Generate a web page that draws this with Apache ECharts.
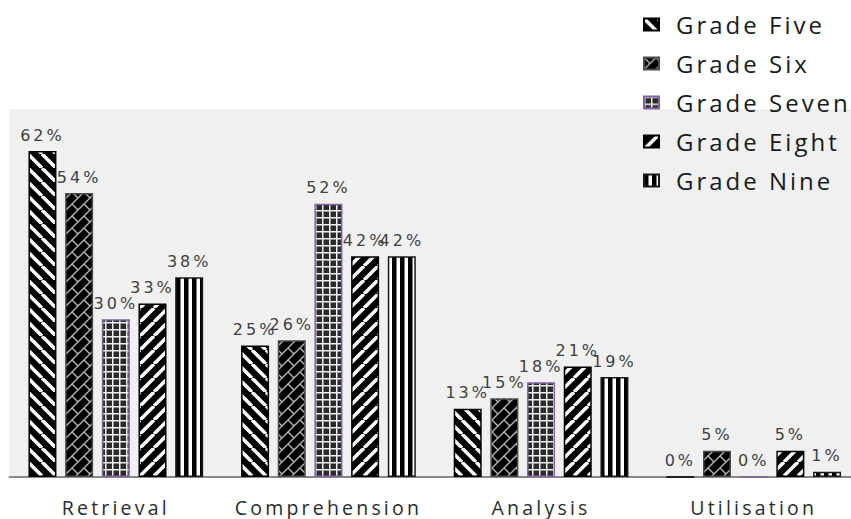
<!DOCTYPE html>
<html><head><meta charset="utf-8">
<script src="https://cdn.jsdelivr.net/npm/echarts@6/dist/echarts.min.js"></script>
<style>
html,body{margin:0;padding:0;background:#fff;overflow:hidden;}
#chart{width:851px;height:519px;}
#chart text[style*="16px"]{letter-spacing:3px;}
#chart text[style*="19.5px"]{letter-spacing:3.2px;}
#chart text[style*="24px"]{letter-spacing:3px;}
</style></head><body><div id="chart"></div>
<script>
// ---- data ----
const categories = ['Retrieval', 'Comprehension', 'Analysis', 'Utilisation'];
const seriesNames = ['Grade Five', 'Grade Six', 'Grade Seven', 'Grade Eight', 'Grade Nine'];
const gradeFive  = [62, 25, 13, 0];
const gradeSix   = [54, 26, 15, 5];
const gradeSeven = [30, 52, 18, 0];
const gradeEight = [33, 42, 21, 5];
const gradeNine  = [38, 42, 19, 1];
const valueMax = 70;

// ---- patterns ----
function tile(w, h, draw) {
  const c = document.createElement('canvas');
  c.width = w; c.height = h;
  draw(c.getContext('2d'), w, h);
  return c;
}
function seg(g, x1, y1, x2, y2) { g.beginPath(); g.moveTo(x1, y1); g.lineTo(x2, y2); g.stroke(); }
const patFive = tile(14, 14, (g, s) => {
  g.fillStyle = '#000'; g.fillRect(0, 0, s, s);
  g.strokeStyle = '#fff'; g.lineWidth = 3.5;
  for (let k = -1; k <= 1; k++) seg(g, k * s, 0, k * s + s, s);
});
const patEight = tile(14, 14, (g, s) => {
  g.fillStyle = '#000'; g.fillRect(0, 0, s, s);
  g.strokeStyle = '#fff'; g.lineWidth = 3.5;
  for (let k = -1; k <= 1; k++) seg(g, k * s, s, k * s + s, 0);
});
const patSix = tile(24, 24, (g, s) => {
  g.fillStyle = '#000'; g.fillRect(0, 0, s, s);
  g.strokeStyle = '#b4b4b4'; g.lineWidth = 1.4;
  for (let c = 0; c <= 48; c += 12) seg(g, 0, c, c, 0);
  seg(g, 0, 0, 6, 6); seg(g, 12, 12, 18, 18);
  seg(g, 12, 0, 18, 6); seg(g, 0, 12, 6, 18);
  seg(g, 24, 12, 30, 18); seg(g, 12, 24, 18, 30); seg(g, 24, 0, 30, 6); seg(g, 0, 24, 6, 30);
});
const patSeven = tile(7, 7, (g, s) => {
  g.fillStyle = '#2b2b2b'; g.fillRect(0, 0, s, s);
  g.fillStyle = '#f0f0f0'; g.fillRect(0, 0, s, 1.5); g.fillRect(0, 0, 1.5, s);
});
const patNine = tile(8, 8, (g, w, h) => {
  g.fillStyle = '#fff'; g.fillRect(0, 0, w, h);
  g.fillStyle = '#000'; g.fillRect(0, 0, 4.5, h);
});

const seriesData = [gradeFive, gradeSix, gradeSeven, gradeEight, gradeNine];
const patterns = [patFive, patSix, patSeven, patEight, patNine];
const borders = ['#000', '#4a4a4a', '#7f64a0', '#000', '#1a1a1a'];

const chart = echarts.init(document.getElementById('chart'), null, { renderer: 'svg' });
chart.setOption({
  animation: false,
  backgroundColor: '#fff',
  grid: { left: 9.5, width: 850.5, top: 109, bottom: 42, show: true, backgroundColor: '#f0f0f0', borderWidth: 0, containLabel: false, outerBoundsMode: 'none' },
  legend: {
    orient: 'vertical', left: 643, top: 12.5, padding: 0, itemWidth: 15, itemHeight: 12, itemGap: 15,
    icon: 'rect', data: seriesNames, selectedMode: false,
    textStyle: { fontFamily: 'Open Sans', fontSize: 24, color: '#1a1a1a', padding: [0, 0, 0, 12] }
  },
  xAxis: {
    type: 'category', data: categories,
    axisTick: { show: false },
    axisLine: { lineStyle: { color: '#888', width: 2 } },
    axisLabel: { fontFamily: 'Open Sans', fontSize: 19.5, color: '#2b2b2b', margin: 20 }
  },
  yAxis: { type: 'value', min: 0, max: valueMax, show: false, splitLine: { show: false } },
  series: seriesNames.map((name, i) => ({
    name, type: 'bar', data: seriesData[i],
    barWidth: 28, barGap: '31%',
    itemStyle: { color: { image: patterns[i], repeat: 'repeat' }, borderColor: borders[i], borderWidth: 1.5 },
    label: { show: true, position: 'top', distance: 8, formatter: '{c}%', fontFamily: 'DejaVu Sans', fontSize: 16, color: '#404040' }
  }))
});
</script></body></html>
